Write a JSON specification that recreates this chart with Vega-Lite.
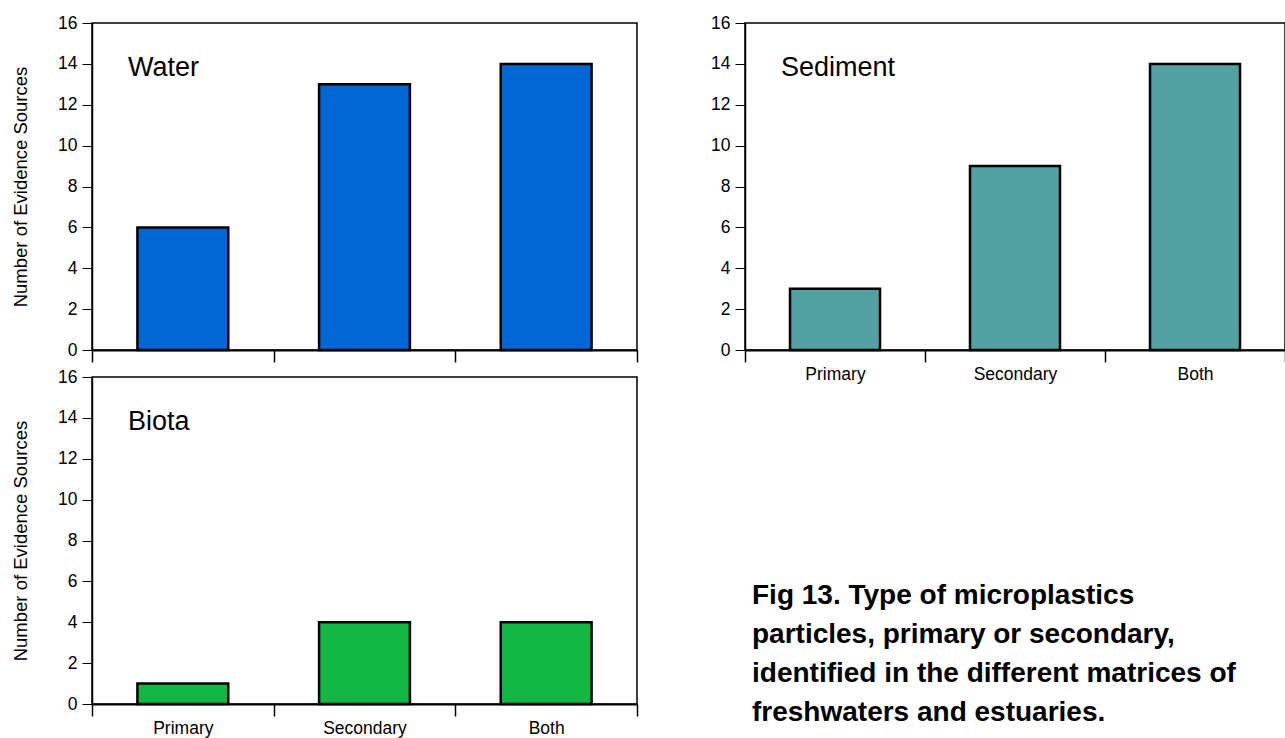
{
  "$schema": "https://vega.github.io/schema/vega-lite/v6.json",
  "background": "white",
  "padding": {"left": 10, "top": 13, "right": 0, "bottom": 0},
  "datasets": {
    "counts": [
      {"matrix": "Water", "type": "Primary", "sources": 6},
      {"matrix": "Water", "type": "Secondary", "sources": 13},
      {"matrix": "Water", "type": "Both", "sources": 14},
      {"matrix": "Sediment", "type": "Primary", "sources": 3},
      {"matrix": "Sediment", "type": "Secondary", "sources": 9},
      {"matrix": "Sediment", "type": "Both", "sources": 14},
      {"matrix": "Biota", "type": "Primary", "sources": 1},
      {"matrix": "Biota", "type": "Secondary", "sources": 4},
      {"matrix": "Biota", "type": "Both", "sources": 4}
    ],
    "panels": [
      {"matrix": "Water"},
      {"matrix": "Sediment"},
      {"matrix": "Biota"}
    ],
    "caption": [
      {"caption": ["Fig 13. Type of microplastics", "particles, primary or secondary,", "identified in the different matrices of", "freshwaters and estuaries."]}
    ]
  },
  "columns": 2,
  "spacing": {"row": 27, "column": 108},
  "bounds": "flush",
  "align": "each",
  "concat": [
    {
      "width": 545,
      "height": 327,
      "layer": [
        {
          "data": {"name": "counts"},
          "transform": [{"filter": "datum.matrix === 'Water'"}],
          "mark": {"type": "bar", "width": {"band": 0.5}, "stroke": "black", "strokeWidth": 2.5, "color": "#0066d4"},
          "encoding": {
            "x": {"field": "type", "type": "nominal", "sort": ["Primary", "Secondary", "Both"], "scale": {"paddingInner": 0, "paddingOuter": 0},
                  "axis": {"title": null, "labels": false, "tickBand": "extent", "tickSize": 12, "tickWidth": 1.5, "domainWidth": 2}},
            "y": {"field": "sources", "type": "quantitative", "scale": {"domain": [0, 16], "nice": false},
                  "axis": {"title": "Number of Evidence Sources", "values": [0,1,2,3,4,5,6,7,8,9,10,11,12,13,14,15,16],
                           "labelExpr": "datum.value % 2 ? '' : datum.label", "labelOverlap": false,
                           "tickSize": {"condition": {"test": "datum.value % 2", "value": 6}, "value": 10},
                           "labelFontSize": 17.5, "labelPadding": 5, "titleFontSize": 18.5, "titleFontWeight": "normal", "titlePadding": 27, "domainWidth": 1.5}}
          }
        },
        {
          "data": {"name": "panels"},
          "transform": [{"filter": "datum.matrix === 'Water'"}],
          "mark": {"type": "text", "align": "left", "baseline": "alphabetic", "fontSize": 27, "dx": 36},
          "encoding": {
            "x": {"datum": "Primary", "type": "nominal", "bandPosition": 0},
            "y": {"datum": 13.4, "type": "quantitative"},
            "text": {"field": "matrix", "type": "nominal"}
          }
        }
      ]
    },
    {
      "width": 540,
      "height": 327,
      "layer": [
        {
          "data": {"name": "counts"},
          "transform": [{"filter": "datum.matrix === 'Sediment'"}],
          "mark": {"type": "bar", "width": {"band": 0.5}, "stroke": "black", "strokeWidth": 2.5, "color": "#52a1a3"},
          "encoding": {
            "x": {"field": "type", "type": "nominal", "sort": ["Primary", "Secondary", "Both"], "scale": {"paddingInner": 0, "paddingOuter": 0},
                  "axis": {"title": null, "labelAngle": 0, "labelFontSize": 17.5, "labelPadding": 3, "tickBand": "extent", "tickSize": 12, "tickWidth": 1.5, "domainWidth": 2}},
            "y": {"field": "sources", "type": "quantitative", "scale": {"domain": [0, 16], "nice": false},
                  "axis": {"title": null, "values": [0,1,2,3,4,5,6,7,8,9,10,11,12,13,14,15,16],
                           "labelExpr": "datum.value % 2 ? '' : datum.label", "labelOverlap": false,
                           "tickSize": {"condition": {"test": "datum.value % 2", "value": 6}, "value": 10},
                           "labelFontSize": 17.5, "labelPadding": 5, "domainWidth": 1.5}}
          }
        },
        {
          "data": {"name": "panels"},
          "transform": [{"filter": "datum.matrix === 'Sediment'"}],
          "mark": {"type": "text", "align": "left", "baseline": "alphabetic", "fontSize": 27, "dx": 36},
          "encoding": {
            "x": {"datum": "Primary", "type": "nominal", "bandPosition": 0},
            "y": {"datum": 13.4, "type": "quantitative"},
            "text": {"field": "matrix", "type": "nominal"}
          }
        }
      ]
    },
    {
      "width": 545,
      "height": 327,
      "layer": [
        {
          "data": {"name": "counts"},
          "transform": [{"filter": "datum.matrix === 'Biota'"}],
          "mark": {"type": "bar", "width": {"band": 0.5}, "stroke": "black", "strokeWidth": 2.5, "color": "#12b846"},
          "encoding": {
            "x": {"field": "type", "type": "nominal", "sort": ["Primary", "Secondary", "Both"], "scale": {"paddingInner": 0, "paddingOuter": 0},
                  "axis": {"title": null, "labelAngle": 0, "labelFontSize": 17.5, "labelPadding": 3, "tickBand": "extent", "tickSize": 12, "tickWidth": 1.5, "domainWidth": 2}},
            "y": {"field": "sources", "type": "quantitative", "scale": {"domain": [0, 16], "nice": false},
                  "axis": {"title": "Number of Evidence Sources", "values": [0,1,2,3,4,5,6,7,8,9,10,11,12,13,14,15,16],
                           "labelExpr": "datum.value % 2 ? '' : datum.label", "labelOverlap": false,
                           "tickSize": {"condition": {"test": "datum.value % 2", "value": 6}, "value": 10},
                           "labelFontSize": 17.5, "labelPadding": 5, "titleFontSize": 18.5, "titleFontWeight": "normal", "titlePadding": 27, "domainWidth": 1.5}}
          }
        },
        {
          "data": {"name": "panels"},
          "transform": [{"filter": "datum.matrix === 'Biota'"}],
          "mark": {"type": "text", "align": "left", "baseline": "alphabetic", "fontSize": 27, "dx": 36},
          "encoding": {
            "x": {"datum": "Primary", "type": "nominal", "bandPosition": 0},
            "y": {"datum": 13.4, "type": "quantitative"},
            "text": {"field": "matrix", "type": "nominal"}
          }
        }
      ]
    },
    {
      "width": 14,
      "height": 454,
      "view": {"stroke": null},
      "data": {"name": "caption"},
      "mark": {"type": "text", "align": "left", "baseline": "alphabetic", "fontSize": 28, "fontWeight": "bold", "lineHeight": 39},
      "encoding": {
        "text": {"field": "caption", "type": "nominal"}
      }
    }
  ],
  "config": {
    "font": "Liberation Sans",
    "view": {"stroke": "black", "strokeWidth": 1.5},
    "axis": {"domainColor": "black", "tickColor": "black", "labelColor": "black", "titleColor": "black", "grid": false}
  }
}
